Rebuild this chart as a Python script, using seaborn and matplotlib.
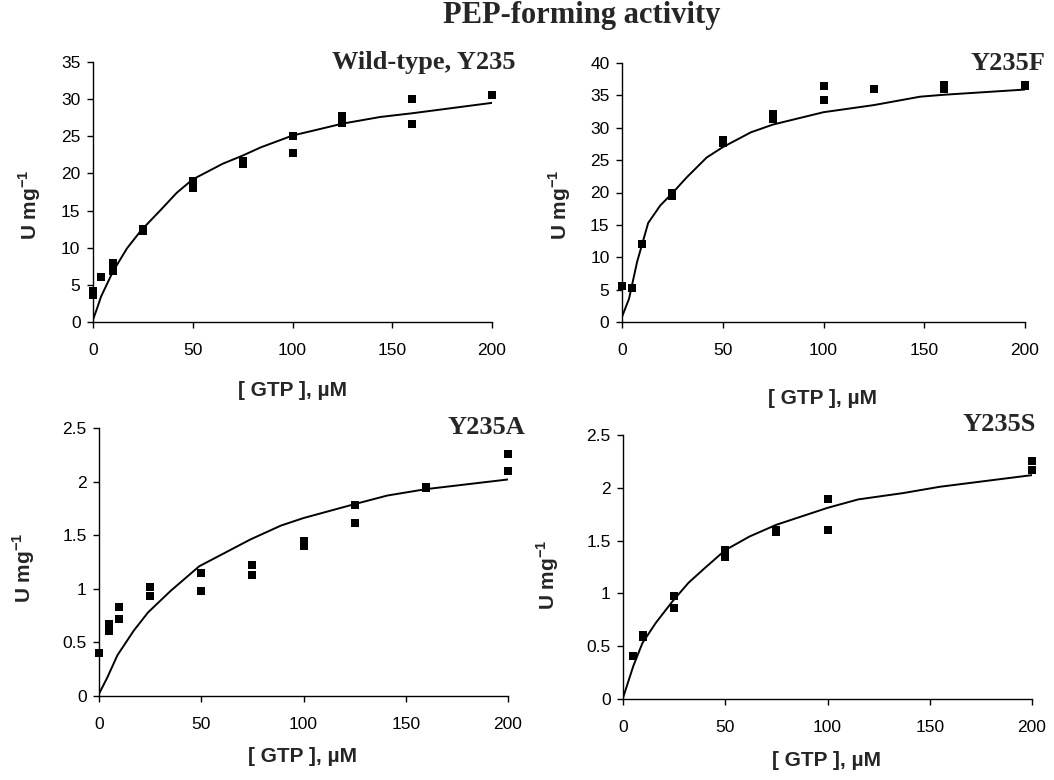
import numpy as np
import pandas as pd
import matplotlib
matplotlib.use('Agg')
import matplotlib.pyplot as plt
import seaborn as sns
from matplotlib.ticker import FormatStrFormatter

# -----------------------------
# Data
# -----------------------------
# Wild-type, Y235
wt_conc = [0, 0, 4, 10, 10, 25, 25, 50, 50, 75, 75, 100, 100, 125, 125, 160, 160, 200]
wt_rate = [4.2, 3.6, 6.0, 7.9, 6.8, 12.5, 12.2, 19.0, 18.1, 21.7, 21.3, 25.0, 22.8,
           27.7, 26.8, 30.0, 26.7, 30.6]
wt_fit_conc = [0, 2, 4, 10, 17, 24, 34, 42, 50, 65, 75, 84, 100, 111, 125, 144, 160, 200]
wt_fit_rate = [0.3, 1.8, 3.4, 6.8, 9.9, 12.3, 15.1, 17.4, 19.2, 21.3, 22.4, 23.5, 25.1,
               25.8, 26.7, 27.6, 28.1, 29.5]

# Y235F
f_conc = [0, 5, 10, 25, 25, 50, 50, 75, 75, 100, 100, 125, 160, 160, 200, 200]
f_rate = [5.6, 5.3, 12.0, 19.9, 19.5, 28.1, 27.7, 32.2, 31.3, 36.4, 34.3, 36.0,
          36.6, 36.0, 36.6, 36.4]
f_fit_conc = [0, 3.5, 7.5, 13, 19, 25, 32, 42, 50, 64, 75, 100, 125, 148, 160, 200]
f_fit_rate = [0.8, 3.6, 9.3, 15.3, 18.0, 19.9, 22.3, 25.4, 27.0, 29.3, 30.5, 32.4,
              33.5, 34.8, 35.1, 35.9]

# Y235A
a_conc = [0, 5, 5, 10, 10, 25, 25, 50, 50, 75, 75, 100, 100, 125, 125, 160, 160, 200, 200]
a_rate = [0.40, 0.67, 0.61, 0.83, 0.72, 1.02, 0.93, 1.15, 0.98, 1.22, 1.13, 1.45, 1.40,
          1.78, 1.61, 1.95, 1.94, 2.26, 2.10]
a_fit_conc = [0, 4, 9, 17, 24, 35, 49, 74, 89, 100, 125, 141, 160, 200]
a_fit_rate = [0.02, 0.17, 0.38, 0.61, 0.78, 0.98, 1.21, 1.46, 1.59, 1.66, 1.79, 1.87,
              1.93, 2.02]

# Y235S
s_conc = [5, 10, 10, 25, 25, 50, 50, 75, 75, 100, 100, 200, 200]
s_rate = [0.41, 0.61, 0.59, 0.98, 0.86, 1.41, 1.34, 1.60, 1.58, 1.89, 1.60, 2.25, 2.17]
s_fit_conc = [0, 5, 9.5, 16, 24, 32, 40, 50, 62, 75, 100, 115, 137, 155, 200]
s_fit_rate = [0.01, 0.31, 0.53, 0.72, 0.92, 1.10, 1.24, 1.41, 1.54, 1.65, 1.81, 1.89,
              1.95, 2.01, 2.12]

panels = [
    ('Wild-type, Y235', wt_conc, wt_rate, wt_fit_conc, wt_fit_rate, 35, 5),
    ('Y235F', f_conc, f_rate, f_fit_conc, f_fit_rate, 40, 5),
    ('Y235A', a_conc, a_rate, a_fit_conc, a_fit_rate, 2.5, 0.5),
    ('Y235S', s_conc, s_rate, s_fit_conc, s_fit_rate, 2.5, 0.5),
]

sns.set_theme(style='ticks')
sans = ['Liberation Sans', 'DejaVu Sans']
plt.rcParams['font.family'] = sans
plt.rcParams['mathtext.fontset'] = 'custom'
plt.rcParams['mathtext.rm'] = 'Liberation Sans'
plt.rcParams['mathtext.bf'] = 'Liberation Sans:bold'

W, H = 1054, 780
fig = plt.figure(figsize=(W / 100, H / 100), dpi=100)

# axes boxes in pixels: left, right, y of zero, y of top
boxes = [(93, 492, 322, 62), (622, 1025, 322, 63),
         (99, 508, 696, 428), (623, 1032, 699, 435)]
title_pos = [(515, 63), (1045, 63), (525, 427), (1036, 425)]
xlabel_pos = [(292, 391), (823, 399), (303, 757), (827, 761)]
ylabel_pos = [(30, 205), (560, 205), (24, 568), (548, 575)]

for i, (name, xc, yr, fx, fy, ymax, ystep) in enumerate(panels):
    l, r, b, t = boxes[i]
    ax = fig.add_axes([l / W, 1 - b / H, (r - l) / W, (b - t) / H])
    scat = pd.DataFrame({'conc': xc, 'rate': yr})
    fit = pd.DataFrame({'conc': fx, 'rate': fy})
    sns.lineplot(data=fit, x='conc', y='rate', ax=ax, color='black', lw=1.4,
                 sort=False, estimator=None)
    sns.scatterplot(data=scat, x='conc', y='rate', ax=ax, color='black',
                    marker='s', s=30, edgecolor='black', linewidth=0,
                    clip_on=False, zorder=3)
    ax.set_xlim(0, 200)
    ax.set_ylim(0, ymax)
    ax.set_xticks(np.arange(0, 201, 50))
    ax.set_yticks(np.arange(0, ymax + ystep / 2, ystep))
    ax.yaxis.set_major_formatter(FormatStrFormatter('%g'))
    ax.set_xlabel('')
    ax.set_ylabel('')
    for side in ['top', 'right']:
        ax.spines[side].set_visible(False)
    for side in ['left', 'bottom']:
        ax.spines[side].set_color('black')
        ax.spines[side].set_linewidth(1.0)
    ax.tick_params(axis='both', direction='out', length=4, width=1,
                   color='black', labelsize=12.5, labelcolor='black')
    ax.tick_params(axis='x', pad=11)
    ax.tick_params(axis='y', pad=5)

    tx, ty = title_pos[i]
    fig.text(tx / W, 1 - ty / H, name, ha='right', va='center',
             fontsize=19, fontweight='bold', family='Liberation Serif')
    lx, ly = xlabel_pos[i]
    fig.text(lx / W, 1 - ly / H, '[ GTP ], \u00b5M', ha='center', va='center',
             fontsize=15, fontweight='bold', family=sans)
    yx, yy = ylabel_pos[i]
    fig.text(yx / W, 1 - yy / H, 'U mg$^{\\mathbf{-1}}$', ha='center', va='center',
             rotation=90, fontsize=15, fontweight='bold', family=sans)

fig.text(582 / W, 1 - 15 / H, 'PEP-forming activity', ha='center', va='center',
         fontsize=22, fontweight='bold', family='Liberation Serif')

fig.savefig('out.png', dpi=100)
